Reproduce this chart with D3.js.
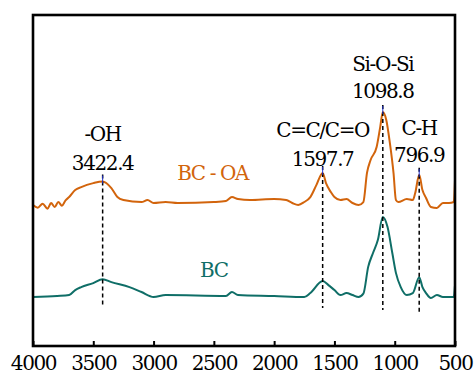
<!DOCTYPE html>
<html>
<head>
<meta charset="utf-8">
<script src="https://cdn.jsdelivr.net/npm/d3@7"></script>
<style>
  body { margin: 0; background: #fff; }
  text { font-family: "DejaVu Serif"; font-size: 20px; letter-spacing: -1.4px; }
</style>
</head>
<body>
<div id="main-chart"></div>
<script>
// wavenumbers (cm-1) and transmittance (a.u.)
let waveOA = [4000, 3960, 3920, 3880, 3850, 3820, 3790, 3760, 3730, 3700, 3650, 3600, 3500, 3422.4, 3350, 3300, 3250,
  3100, 3050, 3000, 2900, 2800, 2500, 2400, 2350, 2300, 2200, 2000, 1900, 1850, 1800, 1750, 1700, 1650, 1597.7,
  1570, 1530, 1500, 1450, 1400, 1350, 1300, 1260, 1230, 1200, 1150, 1120, 1098.8, 1070, 1040, 1010, 990, 970,
  900, 850, 830, 796.9, 770, 740, 700, 650, 600, 550, 510, 500];
let valOA = [42.6, 41.8, 43.0, 41.5, 43.2, 42.0, 43.5, 42.4, 44.0, 45.0, 47.1, 48.0, 49.2, 49.7, 47.7, 45.0, 44.1,
  43.5, 44.1, 43.2, 43.5, 43.2, 43.5, 43.8, 45.0, 44.4, 44.1, 44.4, 44.1, 43.2, 42.6, 43.5, 45.0, 48.6, 52.3,
  49.2, 46.5, 45.0, 44.1, 44.4, 43.2, 42.6, 43.5, 52.3, 56.2, 60.1, 66.2, 70.7, 68.3, 61.3, 52.3, 44.1, 43.5,
  44.4, 44.1, 46.2, 51.7, 47.1, 44.7, 42.0, 41.7, 43.2, 43.2, 43.5, 50.1];

let waveBC = [4000, 3800, 3700, 3650, 3600, 3500, 3422.4, 3350, 3200, 3100, 3000, 2900, 2400, 2350, 2300, 2000,
  1750, 1700, 1597.7, 1550, 1500, 1450, 1400, 1350, 1300, 1260, 1220, 1180, 1140, 1098.8, 1060, 1020, 990, 950,
  900, 850, 796.9, 770, 740, 700, 650, 600, 550, 510, 500];
let valBC = [14.8, 15.1, 15.4, 16.9, 17.8, 19.0, 20.2, 19.3, 17.8, 16.3, 14.8, 15.4, 15.1, 16.3, 15.4, 15.1,
  14.8, 16.0, 19.6, 18.4, 16.9, 15.4, 16.0, 15.4, 14.8, 15.8, 23.9, 28.1, 32.0, 39.0, 36.0, 28.1, 22.1, 17.8,
  15.4, 16.0, 20.8, 17.8, 16.0, 14.5, 15.4, 14.8, 14.8, 14.8, 18.4];

// band assignments
let bandNames = ['-OH', 'C=C/C=O', 'Si-O-Si', 'C-H'];
let bandWaves = [3422.4, 1597.7, 1098.8, 796.9];
let bandDrop = [12.4, 11.5, 10.9, 10.0];

let xTicks = [4000, 3500, 3000, 2500, 2000, 1500, 1000, 500];

let margin = {left:33, top:15, right:19, bottom:28},
    width = 474 - margin.left - margin.right,
    height = 374 - margin.top - margin.bottom;

let x = d3.scaleLinear().domain([4000, 500]).range([0, width]);
let y = d3.scaleLinear().domain([0, 100]).range([height, 0]);

let svg = d3.select('#main-chart')
  .append('svg')
  .attr('width', 474)
  .attr('height', 374)
  .append('g')
  .attr('transform', `translate(${margin.left}, ${margin.top})`);

let line = d3.line()
  .x(d => x(d[0]))
  .y(d => y(d[1]))
  .curve(d3.curveMonotoneX);

let orange = '#d2640c', teal = '#0f6e67';

svg.append('path')
  .datum(d3.zip(waveOA, valOA))
  .attr('fill', 'none')
  .attr('stroke', orange)
  .attr('stroke-width', 2)
  .attr('stroke-linejoin', 'round')
  .attr('d', line);

svg.append('path')
  .datum(d3.zip(waveBC, valBC))
  .attr('fill', 'none')
  .attr('stroke', teal)
  .attr('stroke-width', 2)
  .attr('stroke-linejoin', 'round')
  .attr('d', line);

// dashed markers
bandWaves.forEach((w, i) => {
  let peak = valOA[waveOA.indexOf(w)];
  svg.append('line')
    .attr('x1', x(w)).attr('x2', x(w))
    .attr('y1', y(peak) - 7)
    .attr('y2', y(bandDrop[i]))
    .attr('stroke', '#000')
    .attr('stroke-width', 1.5)
    .attr('stroke-dasharray', '4,3');
  svg.append('line')
    .attr('x1', x(w)).attr('x2', x(w))
    .attr('y1', y(peak) - 6)
    .attr('y2', y(peak) + 2)
    .attr('stroke', '#2233cc')
    .attr('stroke-width', 1);
});

// band labels
let nameY = [141, 137, 71, 135], numY = [170, 166, 98, 162];
bandWaves.forEach((w, i) => {
  svg.append('text')
    .attr('x', x(w))
    .attr('y', nameY[i] - margin.top)
    .attr('text-anchor', 'middle')
    .text(bandNames[i]);
  svg.append('text')
    .attr('x', x(w))
    .attr('y', numY[i] - margin.top)
    .attr('text-anchor', 'middle')
    .text(w.toFixed(1));
});

svg.append('text')
  .attr('x', x(2510)).attr('y', 180 - margin.top)
  .attr('text-anchor', 'middle')
  .attr('fill', orange)
  .text('BC - OA');

svg.append('text')
  .attr('x', x(2500)).attr('y', 277 - margin.top)
  .attr('text-anchor', 'middle')
  .attr('fill', teal)
  .text('BC');

// x axis with inward ticks
let xAxis = svg.append('g')
  .attr('transform', `translate(0,${height})`)
  .call(d3.axisBottom(x).tickValues(xTicks).tickSizeInner(-5).tickSizeOuter(0).tickFormat(d3.format('d')));
xAxis.attr('font-family', null).attr('font-size', null);
xAxis.select('.domain').remove();
xAxis.selectAll('line').attr('stroke', '#000').attr('stroke-width', 2);
xAxis.selectAll('text')
  .attr('y', 24)
  .attr('dy', 0)
  .attr('fill', '#000');

// frame
svg.append('rect')
  .attr('x', 0).attr('y', 0)
  .attr('width', width).attr('height', height)
  .attr('fill', 'none')
  .attr('stroke', '#000')
  .attr('stroke-width', 2.6);
</script>
</body>
</html>
